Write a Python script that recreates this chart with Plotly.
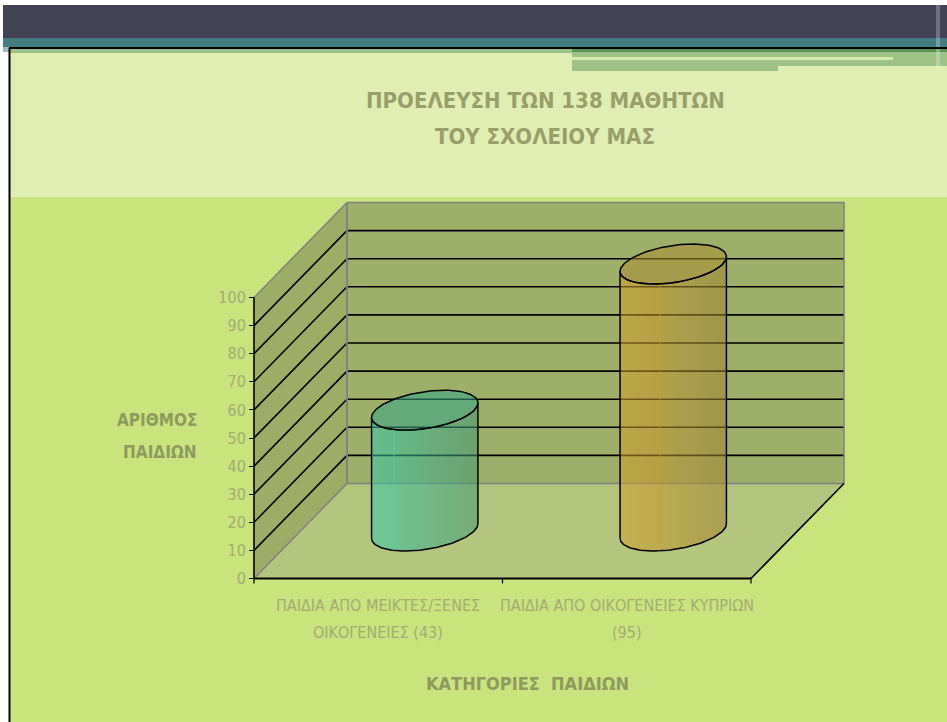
import numpy as np
import plotly.graph_objects as go

# ---------------- data ----------------
categories = ["ΠΑΙΔΙΑ ΑΠΟ ΜΕΙΚΤΕΣ/ΞΕΝΕΣ<br>ΟΙΚΟΓΕΝΕΙΕΣ (43)",
              "ΠΑΙΔΙΑ ΑΠΟ ΟΙΚΟΓΕΝΕΙΕΣ ΚΥΠΡΙΩΝ<br>(95)"]
values = [43, 95]
y_ticks = [0, 10, 20, 30, 40, 50, 60, 70, 80, 90, 100]
title_lines = ["ΠΡΟΕΛΕΥΣΗ ΤΩΝ 138 ΜΑΘΗΤΩΝ", "ΤΟΥ ΣΧΟΛΕΙΟΥ ΜΑΣ"]
y_title_lines = ["ΑΡΙΘΜΟΣ", "ΠΑΙΔΙΩΝ"]
x_title = "ΚΑΤΗΓΟΡΙΕΣ\u00a0 ΠΑΙΔΙΩΝ"

# ---------------- geometry / style ----------------
W, H = 947, 722
X_PX0, XU = 254.0, 248.5       # front-axis pixel x, pixels per category
Y_PX0, YU = 578.5, 2.81        # value-0 pixel y, pixels per value unit
DX = 93.0 / XU                 # depth offset in category units
DY = 95.0 / YU                 # depth offset in value units
YMAX = 100
NCAT = len(categories)

XR = [-0.1, 2.5]
YR = [-6, 140]
xdom = [(X_PX0 + XU * XR[0]) / W, (X_PX0 + XU * XR[1]) / W]
ydom = [1 - (Y_PX0 - YU * YR[0]) / H, 1 - (Y_PX0 - YU * YR[1]) / H]

NARROW = "Liberation Sans Narrow, DejaVu Sans Condensed, sans-serif"
TITLE_COL = "#989f6b"
AXT_COL = "#8e9a5e"
TICK_COL = "#a3ac72"

WALL = "#9daf68"
SIDE = "#9dad66"
FLOOR = "#b4c57d"
EDGE = "#808080"

fig = go.Figure()


def poly(xs, ys, fill, line_color=None, lw=0):
    fig.add_trace(go.Scatter(
        x=list(xs) + [xs[0]], y=list(ys) + [ys[0]], mode="lines",
        fill="toself", fillcolor=fill,
        line=dict(color=line_color or "rgba(0,0,0,0)", width=lw),
        hoverinfo="skip", showlegend=False, cliponaxis=False))


def seg(xs, ys, color="black", lw=1.5):
    fig.add_trace(go.Scatter(
        x=xs, y=ys, mode="lines", line=dict(color=color, width=lw),
        hoverinfo="skip", showlegend=False, cliponaxis=False))


# walls and floor
poly([0, 0, DX, DX], [0, YMAX, YMAX + DY, DY], SIDE)
poly([DX, DX, NCAT + DX, NCAT + DX], [DY, YMAX + DY, YMAX + DY, DY], WALL)
poly([0, NCAT, NCAT + DX, DX], [0, 0, DY, DY], FLOOR)

# gridlines (back wall + side wall)
gx, gy, sx, sy = [], [], [], []
for v in y_ticks[1:-1]:
    gx += [DX, NCAT + DX, None]
    gy += [v + DY, v + DY, None]
    sx += [0, DX, None]
    sy += [v, v + DY, None]
seg(gx, gy, "black", 1.6)
seg(sx, sy, "black", 1.6)

# grey borders of walls
seg([0, DX, DX, NCAT + DX, NCAT + DX, DX], [YMAX, YMAX + DY, DY, DY, YMAX + DY, YMAX + DY], EDGE, 1.5)
seg([0, DX], [0, DY], EDGE, 1.5)
seg([DX, DX], [DY, YMAX + DY], EDGE, 1.5)

# cylinders
ALPHA = 0.55
cyl_styles = [
    dict(left=(53, 205, 169), right=(68, 148, 115), top=(53, 166, 133),
         hl=(40, 230, 200), hlf=0.31),
    dict(left=(212, 160, 42), right=(162, 130, 51), top=(172, 139, 51),
         hl=(230, 150, 30), hlf=0.42),
]


def rgba(c, a=ALPHA):
    return "rgba(%d,%d,%d,%.2f)" % (c[0], c[1], c[2], a)


A = 0.199          # horizontal radius in category units
F = 0.21           # depth radius as fraction of full depth
th0 = np.arctan2(F * DX * XU, A * XU)

for i, v in enumerate(values):
    cx = i + 0.5 + 0.5 * DX
    base = 0.5 * DY
    top = base + v
    st = cyl_styles[i]
    tf = np.linspace(th0 + np.pi, th0 + 2 * np.pi, 80)
    bx = cx + A * np.cos(tf) + F * DX * np.sin(tf)
    by = base + F * DY * np.sin(tf)
    tx = bx[::-1]
    ty = (top + F * DY * np.sin(tf))[::-1]
    xs = np.concatenate([bx, tx, bx[:1]])
    ys = np.concatenate([by, ty, by[:1]])
    fig.add_trace(go.Scatter(
        x=xs, y=ys, mode="lines", fill="toself",
        fillgradient=dict(type="horizontal",
                          colorscale=[[0, rgba(st["left"])], [1, rgba(st["right"])]]),
        line=dict(color="black", width=1.5),
        hoverinfo="skip", showlegend=False, cliponaxis=False))
    # faint vertical highlight line on the body
    k = int(st["hlf"] * (len(tf) - 1))
    seg([bx[k], bx[k]], [by[k], top + F * DY * np.sin(tf[k])], rgba(st["hl"], 0.6), 1)
    ta = np.linspace(0, 2 * np.pi, 120)
    ex = cx + A * np.cos(ta) + F * DX * np.sin(ta)
    ey = top + F * DY * np.sin(ta)
    fig.add_trace(go.Scatter(
        x=ex, y=ey, mode="lines", fill="toself", fillcolor=rgba(st["top"]),
        line=dict(color="black", width=1.5),
        hoverinfo="skip", showlegend=False, cliponaxis=False))

# front axes, floor right edge, category ticks
seg([0, 0], [0, YMAX], "black", 1.6)
seg([0, NCAT], [0, 0], "black", 2)
seg([NCAT, NCAT + DX], [0, DY], "black", 1.6)
tkx, tky = [], []
for k in range(NCAT + 1):
    tkx += [k, k, None]
    tky += [0, -5.0 / YU, None]
seg(tkx, tky, "black", 1.2)

# ---------------- background shapes ----------------
def prect(x0, y0, x1, y1, color):
    return dict(type="rect", xref="paper", yref="paper",
                x0=x0 / W, x1=x1 / W, y0=1 - y1 / H, y1=1 - y0 / H,
                fillcolor=color, line=dict(width=0), layer="below")

shapes = [
    prect(3, 5, W, 38, "#414254"),
    prect(3, 38, W, 47, "#417c80"),
    prect(3, 47, 9, 52, "#9bbcc4"),
    prect(10, 49, W, 197, "#e0eeb4"),
    prect(10, 49, W, 53, "#9dc288"),
    prect(10, 197, W, H, "#c9e37d"),
    prect(572, 48, W, 52, "#5e9155"),
    prect(572, 52, W, 71, "#9dc288"),
    prect(778, 66, W, 71, "#e0eeb4"),
    prect(572, 57, 893, 60, "#d6eaae"),
    prect(936, 5, 940, 67, "rgba(255,255,255,0.25)"),
    dict(type="line", xref="paper", yref="paper", x0=9 / W, x1=1,
         y0=1 - 48 / H, y1=1 - 48 / H, line=dict(color="black", width=2), layer="below"),
    dict(type="line", xref="paper", yref="paper", x0=9.5 / W, x1=9.5 / W,
         y0=1 - 48 / H, y1=0, line=dict(color="black", width=2), layer="below"),
]

# ---------------- annotations ----------------
ann = []
for j, t in enumerate(title_lines):
    ann.append(dict(text=t, x=545 / W, y=1 - (100 + 37 * j) / H, xref="paper", yref="paper",
                    xanchor="center", yanchor="middle", showarrow=False,
                    font=dict(family=NARROW, size=22, color=TITLE_COL, weight="bold")))
for j, t in enumerate(y_title_lines):
    ann.append(dict(text=t, x=199 / W, y=1 - (420 + 32 * j) / H, xref="paper", yref="paper",
                    xanchor="right", yanchor="middle", showarrow=False,
                    font=dict(family=NARROW, size=17, color=AXT_COL, weight="bold")))
ann.append(dict(text=x_title, x=527 / W, y=1 - 683 / H, xref="paper", yref="paper",
                xanchor="center", yanchor="middle", showarrow=False,
                font=dict(family=NARROW, size=18, color=AXT_COL, weight="bold")))
for i, c in enumerate(categories):
    for j, line in enumerate(c.split("<br>")):
        ann.append(dict(text=line, x=i + 0.5, xref="x", y=1 - (605 + 27 * j) / H, yref="paper",
                        xanchor="center", yanchor="middle", showarrow=False,
                        font=dict(family=NARROW, size=16, color=TICK_COL)))

fig.update_layout(
    width=W, height=H, autosize=False,
    margin=dict(l=0, r=0, t=0, b=0),
    paper_bgcolor="white", plot_bgcolor="rgba(0,0,0,0)",
    shapes=shapes, annotations=ann, showlegend=False,
    xaxis=dict(domain=xdom, range=XR, visible=False, fixedrange=True),
    yaxis=dict(domain=ydom, range=YR, anchor="free", position=X_PX0 / W,
               tickvals=y_ticks, ticks="outside", ticklen=5, tickwidth=1.2,
               tickcolor="black", showgrid=False, zeroline=False, showline=False,
               tickfont=dict(family=NARROW, size=16, color=TICK_COL), fixedrange=True),
)

fig.write_html("out.html", config={"displayModeBar": False},
               post_script="document.body.style.margin='0px';document.body.style.overflow='hidden';")
